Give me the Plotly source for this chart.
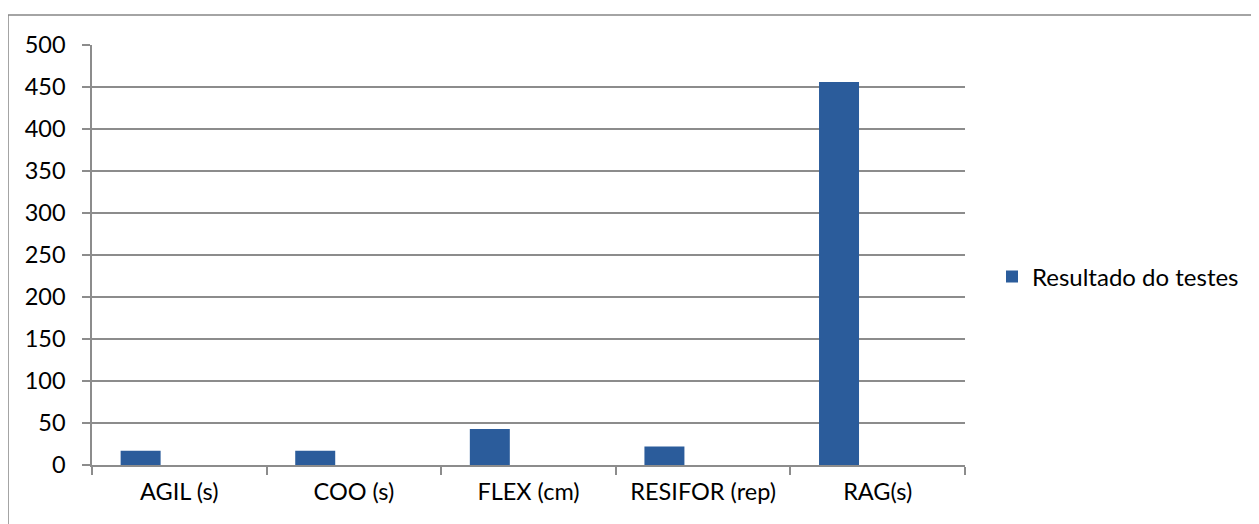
import plotly.graph_objects as go

categories = ["AGIL (s)", "COO (s)", "FLEX (cm)", "RESIFOR (rep)", "RAG(s)"]
values = [17, 17, 43, 22, 456]
series_name = "Resultado do testes"
y_ticks = list(range(0, 501, 50))

# page body has an 8px margin; work in window coordinates
OFF = 8
WIN_W, WIN_H = 1259, 524
W, H = WIN_W - OFF, WIN_H - OFF
PX0, PX1, PY0, PY1 = 92, 965, 45, 465  # plot area in window coords
L, T = PX0 - OFF, PY0 - OFF
R = WIN_W - PX1
B = WIN_H - PY1
pw = PX1 - PX0
ph = PY1 - PY0

fig = go.Figure()
fig.add_trace(go.Bar(
    x=categories, y=values, name=series_name,
    marker=dict(color="#2B5C9B", line=dict(width=0)),
    width=0.229, offset=-0.336,
    showlegend=True,
))

font_family = "Lato, 'Open Sans', sans-serif"
fs = 23.5

fig.update_layout(
    width=W, height=H,
    margin=dict(l=L, r=R, t=T, b=B, pad=0),
    paper_bgcolor="white", plot_bgcolor="white",
    font=dict(family=font_family, size=fs, color="#000000"),
    showlegend=True,
    legend=dict(
        x=(992 - PX0) / pw, y=(PY1 - 277) / ph, xanchor="left", yanchor="middle",
        font=dict(family=font_family, size=24, color="#000000"),
        bgcolor="rgba(0,0,0,0)", itemwidth=30,
    ),
    xaxis=dict(
        showgrid=False, showline=True, linecolor="#8C8C8C", linewidth=1.5,
        ticks="outside", tickson="boundaries", ticklen=8, tickcolor="#8C8C8C",
        tickwidth=1.5, ticklabelstandoff=5,
        tickfont=dict(family=font_family, size=fs, color="#000000"),
    ),
    yaxis=dict(
        range=[0, 500], tickvals=y_ticks, showgrid=True, gridcolor="#8C8C8C",
        gridwidth=1.5, showline=True, linecolor="#8C8C8C", linewidth=1.5,
        ticks="outside", ticklen=8, tickcolor="#8C8C8C", tickwidth=1.5,
        ticklabelstandoff=12, zeroline=False,
        tickfont=dict(family=font_family, size=fs, color="#000000"),
    ),
    shapes=[dict(
        type="rect", xref="paper", yref="paper",
        x0=(8 - PX0) / pw, x1=(1275 - PX0) / pw,
        y0=(PY1 - 540) / ph, y1=(PY1 - 15) / ph,
        line=dict(color="#868686", width=1.5), fillcolor="rgba(0,0,0,0)",
        layer="below",
    )],
)

fig.write_html("out.html")
